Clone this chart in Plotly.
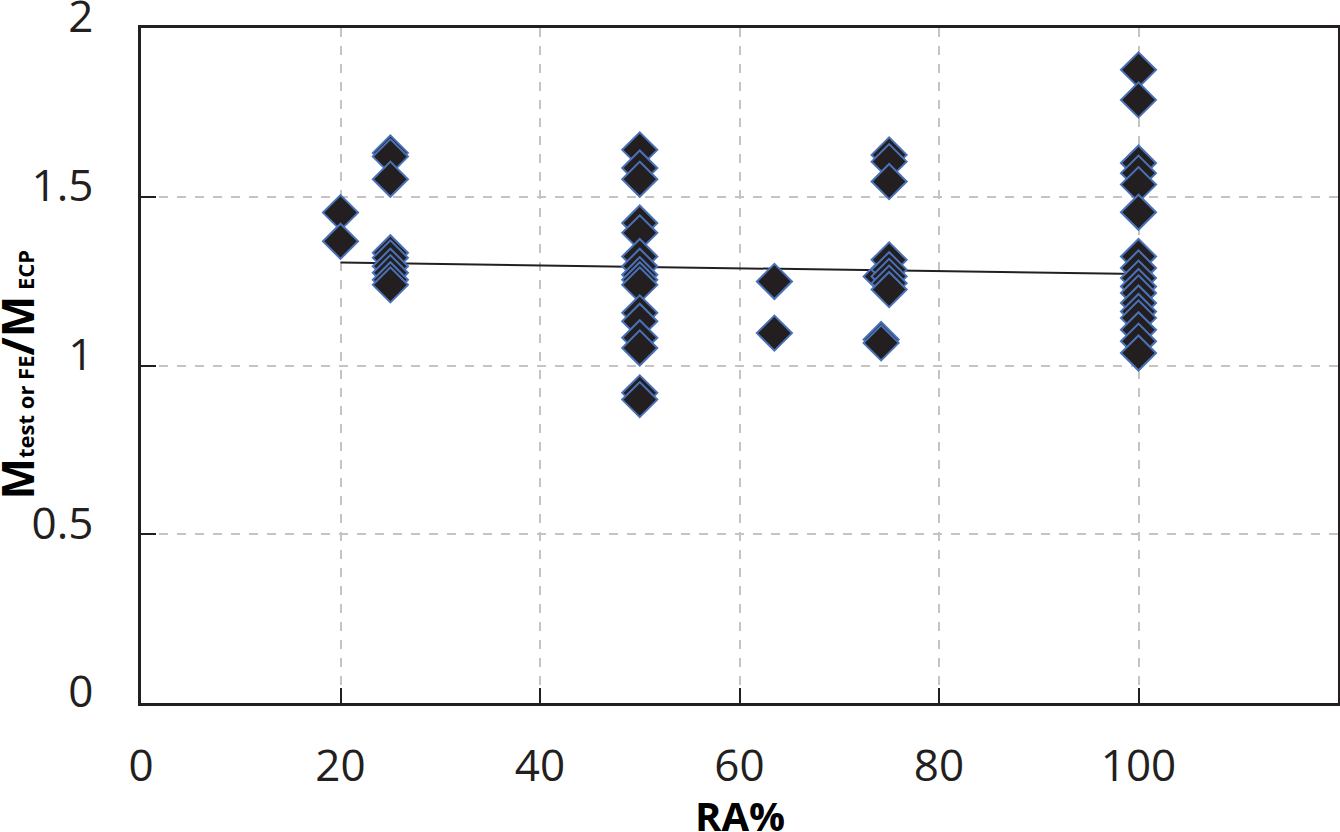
import plotly.graph_objects as go

# data (RA% vs moment ratio)
ra_20 = [1.453, 1.368]
ra_25 = [1.630, 1.619, 1.552, 1.334, 1.319, 1.294, 1.275, 1.254, 1.239]
ra_50 = [1.639, 1.585, 1.552, 1.422, 1.393, 1.323, 1.294, 1.269, 1.254,
         1.239, 1.156, 1.131, 1.082, 1.052, 0.919, 0.899]
ra_63 = [1.249, 1.096]
ra_74 = [1.264, 1.077, 1.067]
ra_75 = [1.624, 1.604, 1.545, 1.313, 1.284, 1.264, 1.244, 1.225]
ra_100 = [1.876, 1.787, 1.600, 1.570, 1.536, 1.454, 1.323, 1.289, 1.259,
          1.234, 1.215, 1.185, 1.160, 1.141, 1.106, 1.072, 1.037]

groups = [(20, ra_20), (25, ra_25), (50, ra_50), (63.5, ra_63),
          (74.2, ra_74), (75, ra_75), (100, ra_100)]

trend_x = [20, 100]
trend_y = [1.305, 1.271]

x_ticks = [0, 20, 40, 60, 80, 100]
y_ticks = [0, 0.5, 1, 1.5, 2]
y_tick_text = ["0", "0.5", "1", "1.5", "2"]

xs, ys = [], []
for ra, vals in groups:
    xs += [ra] * len(vals)
    ys += vals

dark = "#231f20"

fig = go.Figure()

# trend line
fig.add_trace(go.Scatter(
    x=trend_x, y=trend_y, mode="lines",
    line=dict(color=dark, width=2),
))

# points
fig.add_trace(go.Scatter(
    x=xs, y=ys, mode="markers",
    marker=dict(symbol="diamond", size=27, color=dark,
                line=dict(color="#4a72b8", width=2)),
))

fig.update_xaxes(
    range=[0, 120], tickvals=x_ticks, automargin=False,
    showgrid=True, gridcolor="#c4c4c4", griddash="dash", gridwidth=1.5,
    showline=True, linecolor=dark, linewidth=2.5, mirror=True,
    ticks="inside", ticklen=15, tickwidth=2, tickcolor=dark,
    ticklabelstandoff=22,
    tickfont=dict(size=44, color=dark),
    zeroline=False,
)
fig.update_yaxes(
    range=[0, 2], tickvals=y_ticks, ticktext=y_tick_text, automargin=False,
    showgrid=True, gridcolor="#c4c4c4", griddash="dash", gridwidth=1.5,
    showline=True, linecolor=dark, linewidth=2.5, mirror=True,
    ticks="inside", ticklen=15, tickwidth=2, tickcolor=dark,
    ticklabelstandoff=36, ticklabelshift=-11, ticklabeloverflow="allow",
    tickfont=dict(size=44, color=dark),
    zeroline=False,
)

# axis titles as annotations so they sit where the original has them
fig.add_annotation(
    text="<b>RA%</b>", xref="paper", yref="paper",
    x=0.5, y=-0.166, xanchor="center", yanchor="middle",
    showarrow=False, font=dict(size=40, color="black"),
)
sub = "<span style='font-size:22px'>%s</span>"
fig.add_annotation(
    text="<b>M" + sub % "test or FE" + "/M" + sub % " ECP" + "</b>",
    xref="paper", yref="paper", x=-0.104, y=0.486,
    xanchor="center", yanchor="middle", textangle=-90,
    showarrow=False, font=dict(size=44, color="black"),
)

fig.update_layout(
    width=1340, height=832,
    margin=dict(l=141, r=2, t=28, b=129),
    paper_bgcolor="white", plot_bgcolor="white",
    font=dict(family="Open Sans"),
    showlegend=False,
)

# page margin off so the figure sits flush in the window
fig.write_html(
    "out.html",
    config={"displayModeBar": False},
    post_script="document.body.style.margin='0';document.body.style.overflow='hidden';",
)
